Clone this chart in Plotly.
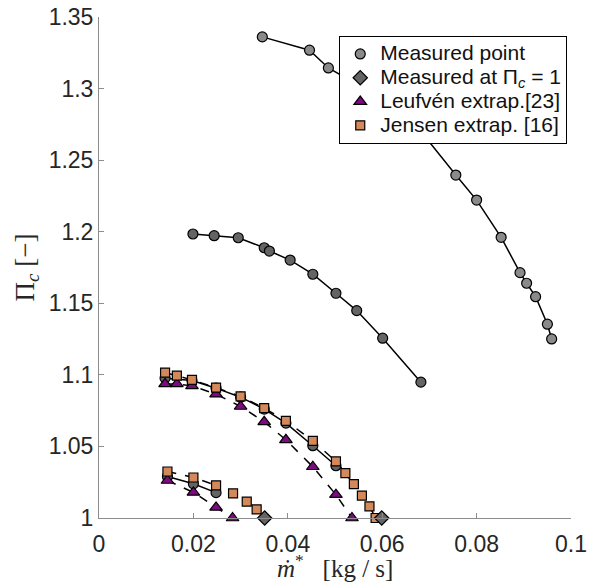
import plotly.graph_objects as go

# ---- data ----
# Speed line 1 (highest), measured
m1_x = [0.0346, 0.0446, 0.0486, 0.0649, 0.0756, 0.0800, 0.0852, 0.0892, 0.0906, 0.0925, 0.0950, 0.0959]
m1_y = [1.3361, 1.3268, 1.3144, 1.2836, 1.2396, 1.2221, 1.1961, 1.1714, 1.1640, 1.1546, 1.1354, 1.1251]
# Speed line 2, measured
m2_x = [0.0199, 0.0244, 0.0295, 0.0350, 0.0361, 0.0405, 0.0453, 0.0502, 0.0546, 0.0601, 0.0682]
m2_y = [1.1984, 1.1972, 1.1958, 1.1888, 1.1865, 1.1802, 1.1703, 1.1570, 1.1449, 1.1256, 1.0949]
# Speed line 3, measured
m3_x = [0.0140, 0.0197, 0.0248, 0.0300, 0.0350, 0.0396, 0.0453, 0.0502]
m3_y = [1.0977, 1.0960, 1.0907, 1.0844, 1.0761, 1.0663, 1.0505, 1.0365]
m3_pi1_x = [0.0599]
m3_pi1_y = [1.0]
l3_x = [0.0140, 0.0165, 0.0197, 0.0248, 0.0300, 0.0350, 0.0396, 0.0453, 0.0502, 0.0536]
l3_y = [1.0937, 1.0937, 1.0923, 1.0865, 1.0779, 1.0672, 1.0546, 1.0358, 1.0163, 1.0]
j3_x = [0.0140, 0.0165, 0.0197, 0.0248, 0.0300, 0.0350, 0.0396, 0.0453, 0.0502, 0.0522, 0.0540, 0.0557, 0.0573, 0.0586]
j3_y = [1.1016, 1.0995, 1.0965, 1.0911, 1.0849, 1.0768, 1.0679, 1.0539, 1.0395, 1.0314, 1.0237, 1.0156, 1.0081, 1.0]
# Speed line 4 (lowest), measured
m4_x = [0.0145, 0.0200, 0.0248]
m4_y = [1.0290, 1.0239, 1.0177]
m4_pi1_x = [0.0351]
m4_pi1_y = [1.0]
l4_x = [0.0145, 0.0200, 0.0248, 0.0283]
l4_y = [1.0262, 1.0179, 1.0074, 1.0]
j4_x = [0.0145, 0.0200, 0.0248, 0.0284, 0.0313, 0.0334]
j4_y = [1.0325, 1.0283, 1.0228, 1.0172, 1.0114, 1.0060]

x_ticks = [0, 0.02, 0.04, 0.06, 0.08, 0.1]
x_ticktext = ["0", "0.02", "0.04", "0.06", "0.08", "0.1"]
y_ticks = [1, 1.05, 1.1, 1.15, 1.2, 1.25, 1.3, 1.35]
y_ticktext = ["1", "1.05", "1.1", "1.15", "1.2", "1.25", "1.3", "1.35"]

legend_names = ["Measured point", "Measured at Π<sub><i>c</i></sub> = 1",
                "Leufvén extrap.[23]", "Jensen extrap. [16]"]
x_title = "<i>ṁ</i><sup>*</sup>   [kg / s]"
y_title = "Π<sub><i>c</i></sub> [−]"

# ---- styles ----
GRAY_LIGHT = "#8a8a8a"
GRAY_DARK = "#646464"
PURPLE = "#7d0a80"
ORANGE = "#d4895b"
EDGE = dict(color="black", width=1.2)

fig = go.Figure()

def line(x, y, dash):
    fig.add_trace(go.Scatter(x=x, y=y, mode="lines", showlegend=False, hoverinfo="skip",
                             line=dict(color="black", width=1.5, dash=dash)))

def markers(x, y, symbol, color, size):
    fig.add_trace(go.Scatter(x=x, y=y, mode="markers", showlegend=False, cliponaxis=False,
                             marker=dict(symbol=symbol, color=color, size=size, line=EDGE)))

# lines
line(m1_x, m1_y, "solid")
line(m2_x, m2_y, "solid")
line(m3_x, m3_y, "solid")
line(m4_x, m4_y, "solid")
line(l3_x, l3_y, "dash")
line(l4_x, l4_y, "dash")
line(j3_x, j3_y, "dash")
line(j4_x[:3], j4_y[:3], "dash")

# markers
markers(m1_x, m1_y, "circle", GRAY_LIGHT, 10)
markers(m2_x, m2_y, "circle", GRAY_DARK, 10)
markers(m3_x, m3_y, "circle", GRAY_DARK, 10)
markers(m4_x, m4_y, "circle", GRAY_DARK, 10)
markers(l3_x, l3_y, "triangle-up", PURPLE, 11)
markers(l4_x, l4_y, "triangle-up", PURPLE, 11)
markers(j3_x, j3_y, "square", ORANGE, 9)
markers(j4_x, j4_y, "square", ORANGE, 9)
markers(m3_pi1_x, m3_pi1_y, "diamond", GRAY_DARK, 11)
markers(m4_pi1_x, m4_pi1_y, "diamond", GRAY_DARK, 11)

# legend entries
for name, sym, col, sz in zip(legend_names,
                              ["circle", "diamond", "triangle-up", "square"],
                              [GRAY_LIGHT, GRAY_DARK, PURPLE, ORANGE],
                              [10, 11, 11, 9]):
    fig.add_trace(go.Scatter(x=[None], y=[None], mode="markers",
                             name='<span style="font-size:21px">' + name + '</span>',
                             marker=dict(symbol=sym, color=col, size=sz, line=EDGE)))

axis_common = dict(showgrid=False, zeroline=False, showline=True, linecolor="#8c8c8c", linewidth=1,
                   ticks="inside", ticklen=5, tickcolor="#8c8c8c", automargin=False,
                   tickfont=dict(family="Liberation Sans, Arial", size=23, color="#262626"))

fig.update_layout(
    width=589, height=586,
    margin=dict(l=99, r=18, t=17, b=68),
    paper_bgcolor="white", plot_bgcolor="white",
    xaxis=dict(range=[0, 0.1], tickvals=x_ticks, ticktext=x_ticktext, ticklabelstandoff=5,
               **axis_common),
    yaxis=dict(range=[1, 1.35], tickvals=y_ticks, ticktext=y_ticktext,
               title=dict(text=y_title,
                          font=dict(family="Liberation Serif, Times New Roman", size=27, color="#262626"),
                          standoff=6),
               **axis_common),
    legend=dict(x=0.509, y=0.962, xanchor="left", yanchor="top",
                bgcolor="white", bordercolor="black", borderwidth=1,
                font=dict(family="Liberation Sans, Arial", size=16, color="#111"),
                itemsizing="trace", tracegroupgap=0),
    showlegend=True,
    annotations=[dict(text=x_title, xref="paper", yref="paper", x=0.5, y=0,
                      xanchor="center", yanchor="top", yshift=-30, showarrow=False,
                      font=dict(family="Liberation Serif, Times New Roman", size=25, color="#262626"))],
)

fig.write_html("out.html")
